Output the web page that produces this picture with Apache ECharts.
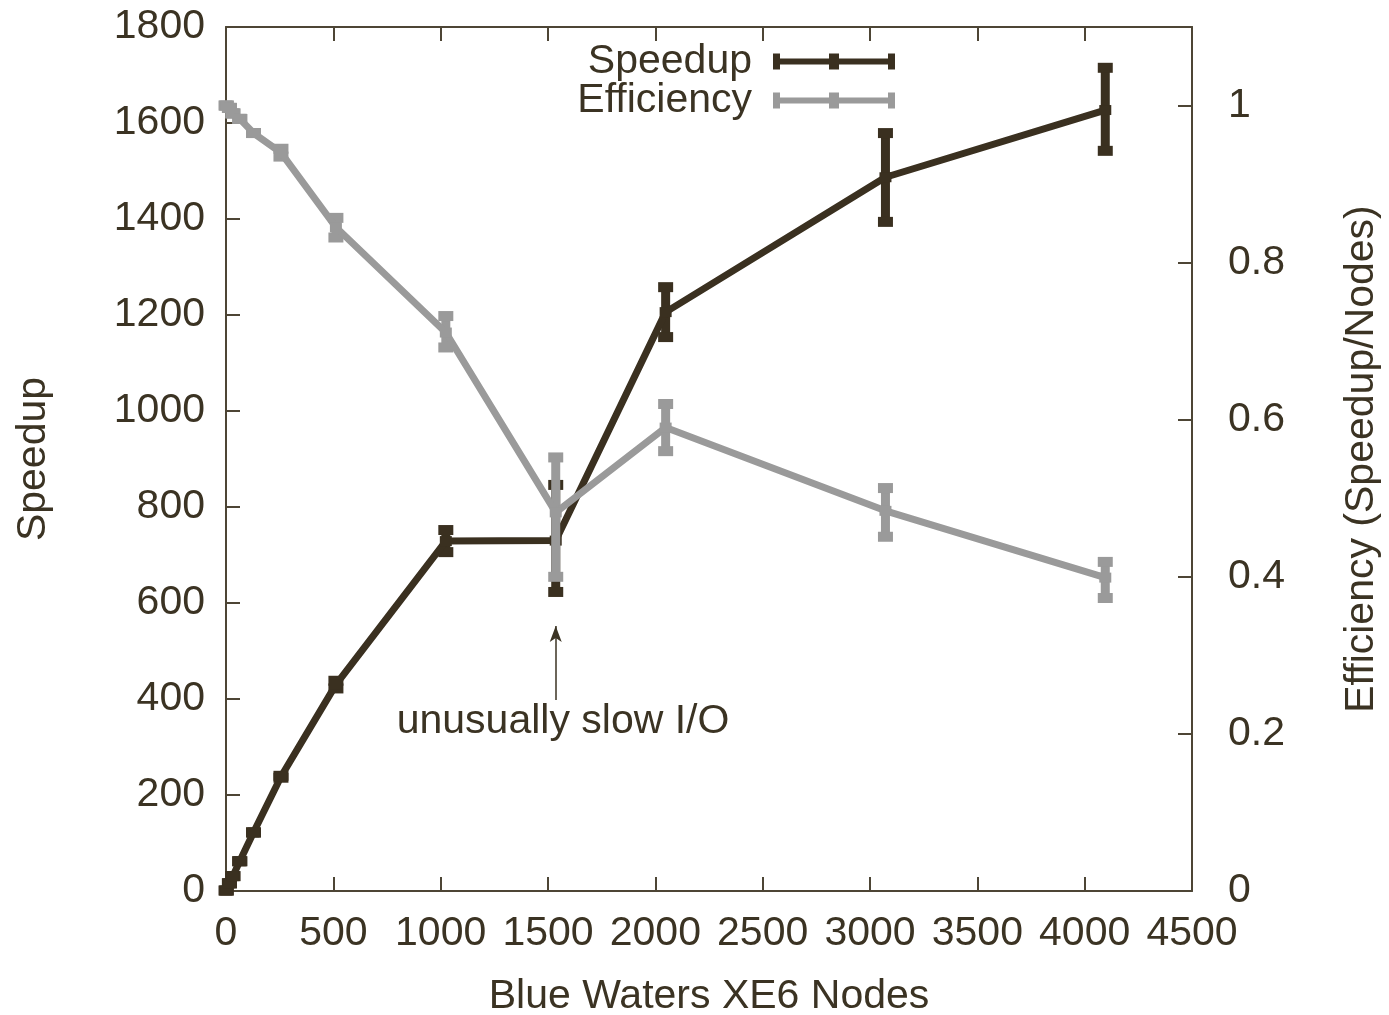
<!DOCTYPE html>
<html>
<head>
<meta charset="utf-8">
<script src="https://cdn.jsdelivr.net/npm/echarts@6/dist/echarts.min.js"></script>
<style>
html,body{margin:0;padding:0;background:#fff;overflow:hidden;}
#chart{width:1389px;height:1015px;}
</style>
</head>
<body>
<div id="chart"></div>
<script>
// ---- data ----
const nodes      = [1, 16, 32, 64, 128, 256, 512, 1024, 1536, 2048, 3072, 4096];
const speedup    = [1, 16, 31, 62, 122, 238, 430, 729, 730, 1206, 1487, 1627];
const speedLow   = [1, 16, 31, 62, 122, 236, 422, 706, 623, 1154, 1394, 1542];
const speedHigh  = [1, 16, 31, 62, 122, 240, 438, 752, 846, 1258, 1579, 1715];
const efficiency = [1.0, 0.997, 0.99, 0.983, 0.965, 0.94, 0.845, 0.711, 0.482, 0.59, 0.484, 0.399];
const effLow     = [1.0, 0.997, 0.99, 0.983, 0.965, 0.935, 0.832, 0.692, 0.40, 0.56, 0.451, 0.373];
const effHigh    = [1.0, 0.997, 0.99, 0.983, 0.965, 0.945, 0.857, 0.732, 0.552, 0.62, 0.513, 0.419];
const xTicks = {min: 0, max: 4500, interval: 500};
const yTicks = {min: 0, max: 1800, interval: 200};
const y2Ticks = {min: 0, max: 1.1, interval: 0.2};
const annotationText = 'unusually slow I/O';

// ---- style ----
const DARK = '#3a3020';
const GRAY = '#9a9a9a';
const TEXT = '#3b3323';
const AXIS = '#4d4535';
const FONT = '"Liberation Sans", Arial, sans-serif';
const FS = 41;

function errRender(color) {
  return function (params, api) {
    const x = api.value(0), lo = api.value(1), hi = api.value(2);
    const a = api.coord([x, lo]), b = api.coord([x, hi]);
    const cw = 15, ch = 10;
    return {
      type: 'group',
      children: [
        {type: 'line', shape: {x1: a[0], y1: a[1], x2: b[0], y2: b[1]}, style: {stroke: color, lineWidth: 9}},
        {type: 'rect', shape: {x: a[0] - cw / 2, y: a[1] - ch / 2, width: cw, height: ch}, style: {fill: color}},
        {type: 'rect', shape: {x: b[0] - cw / 2, y: b[1] - ch / 2, width: cw, height: ch}, style: {fill: color}}
      ]
    };
  };
}

const plain = v => String(v);
const legendIcon = 'path://M0,0H7V5H56V0H66V5H115V0H122V16H115V11H66V16H56V11H7V16H0Z';
const axisLine = {show: true, onZero: false, lineStyle: {color: AXIS, width: 2}};
const axisTick = {show: true, inside: true, length: 14, lineStyle: {color: AXIS, width: 2}};

const chart = echarts.init(document.getElementById('chart'), null, {renderer: 'canvas', width: 1389, height: 1015});
const option = {
  animation: false,
  backgroundColor: '#fff',
  textStyle: {fontFamily: FONT, color: TEXT},
  grid: {left: 226, right: 197, top: 27, bottom: 124, containLabel: false, outerBoundsMode: 'none'},
  legend: {
    orient: 'vertical',
    align: 'right',
    right: 494,
    top: 41,
    padding: 0,
    itemWidth: 122,
    itemHeight: 16,
    itemGap: -2,
    icon: legendIcon,
    data: ['Speedup', 'Efficiency'],
    textStyle: {fontSize: FS, color: TEXT, fontFamily: FONT, padding: [0, 16, 0, 0]}
  },
  xAxis: [{
    type: 'value', position: 'bottom', min: xTicks.min, max: xTicks.max, interval: xTicks.interval,
    name: 'Blue Waters XE6 Nodes', nameLocation: 'middle', nameGap: 85,
    nameTextStyle: {fontSize: FS, color: TEXT, fontFamily: FONT},
    axisLine: axisLine, axisTick: axisTick,
    axisLabel: {fontSize: FS, color: TEXT, fontFamily: FONT, margin: 22, formatter: plain},
    splitLine: {show: false}
  }, {
    type: 'value', position: 'top', min: xTicks.min, max: xTicks.max, interval: xTicks.interval,
    axisLine: axisLine, axisTick: axisTick,
    axisLabel: {show: false},
    splitLine: {show: false}
  }],
  yAxis: [{
    type: 'value', position: 'left', min: yTicks.min, max: yTicks.max, interval: yTicks.interval,
    name: 'Speedup', nameLocation: 'middle', nameGap: 172,
    nameTextStyle: {fontSize: FS, color: TEXT, fontFamily: FONT},
    axisLine: axisLine, axisTick: axisTick,
    axisLabel: {fontSize: FS, color: TEXT, fontFamily: FONT, margin: 21, formatter: plain},
    splitLine: {show: false}
  }, {
    type: 'value', position: 'right', min: y2Ticks.min, max: y2Ticks.max, interval: y2Ticks.interval,
    name: 'Efficiency (Speedup/Nodes)', nameLocation: 'middle', nameGap: 149,
    nameTextStyle: {fontSize: FS, color: TEXT, fontFamily: FONT},
    axisLine: axisLine, axisTick: axisTick,
    axisLabel: {fontSize: FS, color: TEXT, fontFamily: FONT, margin: 36, showMaxLabel: false,
                formatter: v => String(Math.round(v * 10) / 10)},
    splitLine: {show: false}
  }],
  series: [{
    name: 'Speedup', type: 'line', xAxisIndex: 0, yAxisIndex: 0,
    data: nodes.map((n, i) => [n, speedup[i]]),
    symbol: 'rect', symbolSize: [12, 10], showSymbol: true,
    itemStyle: {color: DARK}, lineStyle: {color: DARK, width: 7},
    z: 2,
    markLine: {
      silent: true, symbol: ['none', 'arrow'], symbolSize: [9, 16],
      label: {show: false},
      lineStyle: {color: TEXT, width: 1.5, type: 'solid'},
      data: [[{coord: [1536, 398]}, {coord: [1536, 552]}]]
    },
    markPoint: {
      silent: true, symbol: 'rect', symbolSize: 1,
      itemStyle: {color: 'rgba(0,0,0,0)'},
      label: {show: true, position: 'inside', formatter: annotationText, fontSize: FS, color: TEXT, fontFamily: FONT},
      data: [{coord: [1570, 352]}]
    }
  }, {
    name: 'speedErr', type: 'custom', xAxisIndex: 0, yAxisIndex: 0,
    data: nodes.map((n, i) => [n, speedLow[i], speedHigh[i]]),
    renderItem: errRender(DARK), z: 2, silent: true
  }, {
    name: 'Efficiency', type: 'line', xAxisIndex: 0, yAxisIndex: 1,
    data: nodes.map((n, i) => [n, efficiency[i]]),
    symbol: 'rect', symbolSize: [12, 10], showSymbol: true,
    itemStyle: {color: GRAY}, lineStyle: {color: GRAY, width: 7},
    z: 4
  }, {
    name: 'effErr', type: 'custom', xAxisIndex: 0, yAxisIndex: 1,
    data: nodes.map((n, i) => [n, effLow[i], effHigh[i]]),
    renderItem: errRender(GRAY), z: 4, silent: true
  }]
};
chart.setOption(option);
</script>
</body>
</html>
